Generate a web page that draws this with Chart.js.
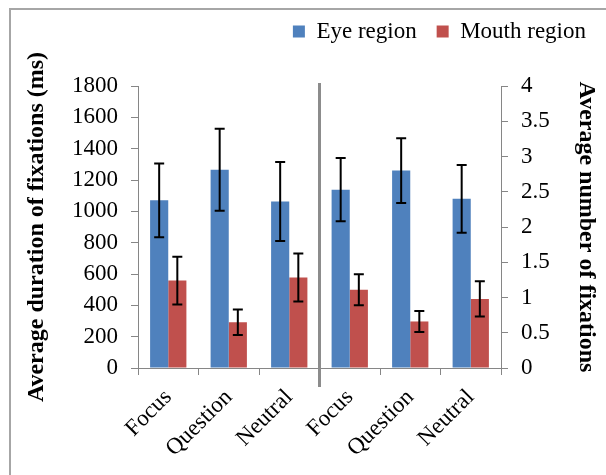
<!DOCTYPE html>
<html>
<head>
<meta charset="utf-8">
<script src="https://cdn.jsdelivr.net/npm/chart.js@4.4.1/dist/chart.umd.min.js"></script>
<style>
  html, body { margin: 0; padding: 0; background: #fff; }
  #frame { position: absolute; left: 9px; top: 8px; width: 800px; height: 800px; border: 2px solid #a6a6a6; }
  #wrap { position: absolute; left: 0; top: 0; width: 606px; height: 475px; }
</style>
</head>
<body>
<div id="frame"></div>
<div id="wrap"><canvas id="grafico"></canvas></div>
<script>
const categorias = ["Focus", "Question", "Neutral", "Focus", "Question", "Neutral"];

// average duration of fixations (ms), left axis
const duracionOjos = [1070, 1265, 1063];
const duracionOjosErr = [235, 262, 252];
const duracionBoca = [558, 292, 578];
const duracionBocaErr = [152, 82, 153];

// average number of fixations, right axis
const numeroOjos = [2.53, 2.80, 2.40];
const numeroOjosErr = [0.45, 0.46, 0.48];
const numeroBoca = [1.11, 0.66, 0.98];
const numeroBocaErr = [0.22, 0.15, 0.25];

const azul = "#4F81BD";
const rojo = "#C0504D";
const gris = "#868686";
const vacio = [null, null, null];

Chart.defaults.font.family = "'Liberation Serif', 'Times New Roman', serif";
Chart.defaults.font.size = 23;
Chart.defaults.color = "#000";

const barrasError = {
  id: "barrasError",
  afterDatasetsDraw(chart) {
    const ctx = chart.ctx;
    ctx.save();
    ctx.strokeStyle = "#000";
    ctx.lineWidth = 2;
    chart.data.datasets.forEach((ds, i) => {
      const meta = chart.getDatasetMeta(i);
      const escala = chart.scales[ds.yAxisID];
      ds.data.forEach((v, j) => {
        if (v === null) return;
        const bar = meta.data[j];
        const e = ds.errores[j];
        const y1 = escala.getPixelForValue(v + e);
        const y2 = escala.getPixelForValue(v - e);
        ctx.beginPath();
        ctx.moveTo(bar.x, y1); ctx.lineTo(bar.x, y2);
        ctx.moveTo(bar.x - 5, y1); ctx.lineTo(bar.x + 5, y1);
        ctx.moveTo(bar.x - 5, y2); ctx.lineTo(bar.x + 5, y2);
        ctx.stroke();
      });
    });
    ctx.restore();
  }
};

const separador = {
  id: "separador",
  afterDraw(chart) {
    const ctx = chart.ctx;
    const x = chart.scales.x.getPixelForValue(2.5);
    ctx.save();
    ctx.strokeStyle = "#8c8c8c";
    ctx.lineWidth = 3;
    ctx.beginPath();
    ctx.moveTo(x, chart.chartArea.top - 3);
    ctx.lineTo(x, chart.chartArea.bottom + 19);
    ctx.stroke();
    ctx.restore();
  }
};

const espacioLeyenda = {
  id: "espacioLeyenda",
  beforeLayout(chart) {
    const lg = chart.legend;
    if (lg && !lg.parcheado) {
      const fit = lg.fit;
      lg.fit = function () { fit.call(this); this.height += 33; };
      lg.parcheado = true;
    }
  }
};

const ctx = document.getElementById("grafico").getContext("2d");
new Chart(ctx, {
  type: "bar",
  data: {
    labels: categorias,
    datasets: [
      { label: "Eye region", data: [...duracionOjos, ...vacio], errores: [...duracionOjosErr, ...vacio], backgroundColor: azul, yAxisID: "yDur" },
      { label: "Mouth region", data: [...duracionBoca, ...vacio], errores: [...duracionBocaErr, ...vacio], backgroundColor: rojo, yAxisID: "yDur" },
      { label: "Eye region (n)", data: [...vacio, ...numeroOjos], errores: [...vacio, ...numeroOjosErr], backgroundColor: azul, yAxisID: "yNum" },
      { label: "Mouth region (n)", data: [...vacio, ...numeroBoca], errores: [...vacio, ...numeroBocaErr], backgroundColor: rojo, yAxisID: "yNum" }
    ]
  },
  options: {
    responsive: true,
    maintainAspectRatio: false,
    devicePixelRatio: 1,
    animation: false,
    events: [],
    layout: { padding: { left: 0, right: 0, top: 0, bottom: 0 } },
    datasets: { bar: { skipNull: true, categoryPercentage: 0.6, barPercentage: 1 } },
    plugins: {
      tooltip: { enabled: false },
      legend: {
        position: "top",
        align: "end",
        labels: {
          boxWidth: 12,
          boxHeight: 12,
          padding: 20,
          font: { size: 23 },
          filter: item => item.datasetIndex < 2
        }
      }
    },
    scales: {
      x: {
        grid: { drawOnChartArea: false, offset: true, tickLength: 7, color: gris },
        border: { color: gris },
        ticks: { autoSkip: false, minRotation: 45, maxRotation: 45, padding: 9 },
        afterFit: s => { s.height = 107; }
      },
      yDur: {
        position: "left",
        min: 0, max: 1800,
        grid: { drawOnChartArea: false, tickLength: 7, color: gris },
        border: { color: gris },
        ticks: { stepSize: 200, padding: 13, callback: v => String(v) },
        title: { display: true, text: "Average duration of fixations (ms)", font: { size: 24, weight: "bold" }, padding: { top: 22, bottom: 0 } },
        afterFit: s => { s.width = 138; }
      },
      yNum: {
        position: "right",
        min: 0, max: 4,
        grid: { drawOnChartArea: false, tickLength: 7, color: gris },
        border: { color: gris },
        ticks: { stepSize: 0.5, padding: 13, callback: v => String(v) },
        title: { display: true, text: "Average number of fixations", font: { size: 24, weight: "bold" }, padding: { top: 5, bottom: 0 } },
        afterFit: s => { s.width = 105; }
      }
    }
  },
  plugins: [barrasError, separador, espacioLeyenda]
});
</script>
</body>
</html>
